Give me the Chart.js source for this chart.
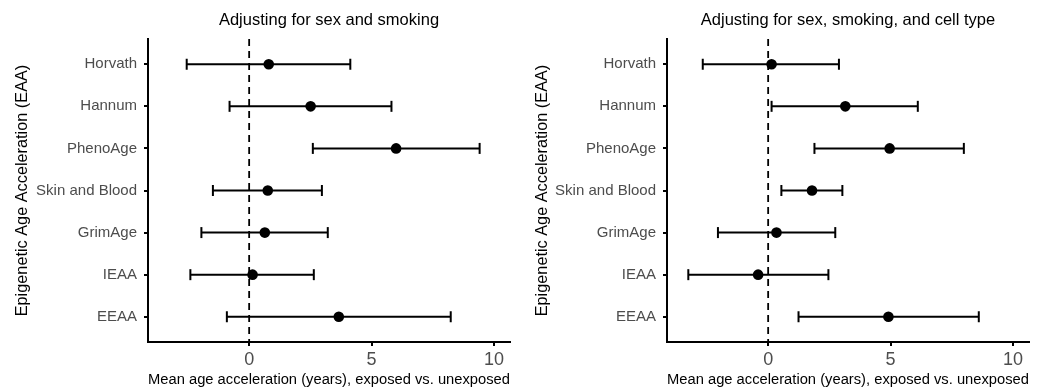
<!DOCTYPE html>
<html>
<head>
<meta charset="utf-8">
<script src="https://cdn.jsdelivr.net/npm/chart.js@4/dist/chart.umd.min.js"></script>
<style>
  body { margin: 0; background: #fff; }
  .row { display: flex; width: 1039px; height: 391px; }
  .panel { position: relative; height: 391px; }
</style>
</head>
<body>
<div class="row">
  <div class="panel" style="width:520px"><canvas id="left"></canvas></div>
  <div class="panel" style="width:519px"><canvas id="right"></canvas></div>
</div>
<script>
// clock names, top to bottom
const methods = ['Horvath', 'Hannum', 'PhenoAge', 'Skin and Blood', 'GrimAge', 'IEAA', 'EEAA'];

// adjusting for sex and smoking
const est1 = [0.80, 2.51, 6.00, 0.76, 0.64, 0.14, 3.66];
const lo1 = [-2.55, -0.80, 2.60, -1.48, -1.95, -2.40, -0.91];
const hi1 = [4.13, 5.81, 9.41, 2.97, 3.21, 2.64, 8.23];

// adjusting for sex, smoking and cell type
const est2 = [0.14, 3.15, 4.96, 1.79, 0.34, -0.41, 4.91];
const lo2 = [-2.67, 0.14, 1.89, 0.54, -2.05, -3.26, 1.24];
const hi2 = [2.89, 6.11, 7.99, 3.03, 2.74, 2.46, 8.60];

const xTicks = [0, 5, 10];

const FONT = "'Liberation Sans', Arial, Helvetica, sans-serif";

// title centred over the plot area, like ggplot
const panelTitle = {
    id: 'panelTitle',
    afterDraw(chart, args, opts) {
        const ctx = chart.ctx;
        const area = chart.chartArea;
        ctx.save();
        ctx.font = '16.5px ' + FONT;
        ctx.fillStyle = '#000';
        ctx.textAlign = 'center';
        ctx.textBaseline = 'alphabetic';
        ctx.fillText(opts.text, (area.left + area.right) / 2, 25);
        ctx.restore();
    }
};

const makeChart = (id, title, est, lo, hi, yWidth) => {
    let datasets = [];

    // estimates
    datasets.push({
        type: 'scatter',
        data: est.map((v, i) => ({ x: v, y: i + 1 })),
        backgroundColor: '#000',
        borderColor: '#000',
        borderWidth: 0,
        pointRadius: 5.3,
        order: 0
    });

    // confidence intervals with caps
    lo.forEach((v, i) => {
        datasets.push({
            type: 'line',
            data: [{ x: v, y: i + 1 }, { x: hi[i], y: i + 1 }],
            borderColor: '#000',
            borderWidth: 2,
            pointStyle: 'line',
            pointRotation: 90,
            pointRadius: 5.5,
            pointBorderWidth: 2,
            pointBorderColor: '#000',
            order: 1
        });
    });

    // reference line at zero
    datasets.push({
        type: 'line',
        data: [{ x: 0, y: 0.4 }, { x: 0, y: 7.6 }],
        borderColor: '#000',
        borderWidth: 1.8,
        borderDash: [7, 5],
        pointRadius: 0,
        order: 2
    });

    return new Chart(document.getElementById(id), {
        type: 'scatter',
        data: { datasets: datasets },
        options: {
            responsive: true,
            maintainAspectRatio: false,
            animation: false,
            events: [],
            layout: { padding: { left: 0, right: 10, top: 39, bottom: 0 } },
            plugins: {
                legend: { display: false },
                tooltip: { enabled: false },
                panelTitle: { text: title }
            },
            scales: {
                x: {
                    type: 'linear',
                    min: -4.13,
                    max: 10.65,
                    afterBuildTicks: axis => { axis.ticks = xTicks.map(v => ({ value: v })); },
                    afterFit: axis => { axis.height = 49; },
                    ticks: { font: { family: FONT, size: 18 }, color: '#4d4d4d', padding: 3 },
                    grid: { drawOnChartArea: false, drawTicks: true, tickLength: 4, color: '#000', lineWidth: 2 },
                    border: { display: true, color: '#000', width: 2 },
                    title: {
                        display: true,
                        text: 'Mean age acceleration (years), exposed vs. unexposed',
                        font: { family: FONT, size: 15.3 },
                        color: '#000',
                        padding: { top: 2, bottom: 2 }
                    }
                },
                y: {
                    type: 'linear',
                    reverse: true,
                    min: 0.4,
                    max: 7.6,
                    afterBuildTicks: axis => { axis.ticks = methods.map((m, i) => ({ value: i + 1 })); },
                    afterFit: axis => { axis.width = yWidth; },
                    ticks: {
                        callback: v => methods[v - 1],
                        font: { family: FONT, size: 15 },
                        color: '#4d4d4d',
                        padding: 7
                    },
                    grid: { drawOnChartArea: false, drawTicks: true, tickLength: 4, color: '#000', lineWidth: 2 },
                    border: { display: true, color: '#000', width: 2 },
                    title: {
                        display: true,
                        text: 'Epigenetic Age Acceleration (EAA)',
                        font: { family: FONT, size: 16.3 },
                        color: '#000',
                        padding: { top: 13, bottom: 0 }
                    }
                }
            }
        },
        plugins: [panelTitle]
    });
}

makeChart('left', 'Adjusting for sex and smoking', est1, lo1, hi1, 148);
makeChart('right', 'Adjusting for sex, smoking, and cell type', est2, lo2, hi2, 147);
</script>
</body>
</html>
